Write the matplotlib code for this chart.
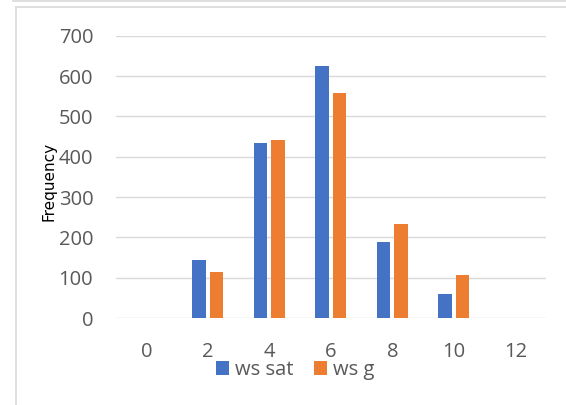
import numpy as np
import matplotlib.pyplot as plt
from matplotlib.lines import Line2D

plt.rcParams['font.family'] = ['Open Sans', 'DejaVu Sans']

categories = ['0', '2', '4', '6', '8', '10', '12']
ws_sat = [0, 143, 435, 626, 188, 59, 0]
ws_g = [0, 115, 442, 557, 232, 107, 0]

W, H = 566, 405
fig = plt.figure(figsize=(W / 100, H / 100), dpi=100)
ax = fig.add_axes([115.5 / W, 1 - 318 / H, 430.5 / W, (318 - 35.7) / H])

x = np.arange(len(categories))
bw = 0.222
off = 0.143
ax.bar(x - off, ws_sat, bw, color='#4472C4', label='ws sat', zorder=3)
ax.bar(x + off, ws_g, bw, color='#ED7D31', label='ws g', zorder=3)

ax.set_xlim(-0.5, len(categories) - 0.5)
ax.set_ylim(0, 700)
ax.set_yticks(range(0, 701, 100))
ax.set_xticks(x)
ax.set_xticklabels(categories)
ax.yaxis.grid(True, color='#d9d9d9', linewidth=1.0)
ax.set_axisbelow(True)
for s in ax.spines.values():
    s.set_visible(False)
ax.tick_params(length=0, labelsize=14.5, labelcolor='#595959')
ax.tick_params(axis='y', pad=16)
ax.tick_params(axis='x', pad=17)

fig.text(48.5 / W, 1 - 181.5 / H, 'Frequency', rotation=90, fontsize=11,
         family='DejaVu Sans', ha='center', va='center', color='black')

fig.legend(loc='center', bbox_to_anchor=(295.5 / W, 1 - 370 / H), ncol=2,
           frameon=False, fontsize=14.5, handlelength=0.65, handleheight=0.65,
           handletextpad=0.3, columnspacing=1.0, borderpad=0,
           labelcolor='#595959')

# chart area frame
border = '#d9d9d9'
fig.add_artist(Line2D([12.7 / W, 1], [1 - 0.7 / H, 1 - 0.7 / H],
                      transform=fig.transFigure, color=border, lw=1.2))
fig.add_artist(Line2D([15.8 / W, 1], [1 - 6.8 / H, 1 - 6.8 / H],
                      transform=fig.transFigure, color=border, lw=1.2))
fig.add_artist(Line2D([15.8 / W, 15.8 / W], [0, 1 - 6.8 / H],
                      transform=fig.transFigure, color=border, lw=1.2))

fig.savefig('out.png', dpi=100)
